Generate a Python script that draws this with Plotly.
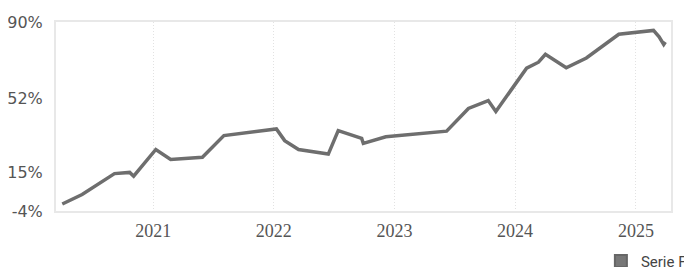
import plotly.graph_objects as go

dates = [
    "2020-04-01", "2020-05-31", "2020-09-06", "2020-10-22", "2020-11-03",
    "2021-01-09", "2021-02-23", "2021-05-30", "2021-08-03", "2022-01-09",
    "2022-02-03", "2022-03-17", "2022-06-15", "2022-07-15", "2022-09-24",
    "2022-09-29", "2022-12-06", "2023-06-08", "2023-08-13", "2023-10-12",
    "2023-11-04", "2024-02-05", "2024-03-12", "2024-04-02", "2024-06-04",
    "2024-08-04", "2024-11-10", "2025-02-23", "2025-03-12", "2025-03-26",
    "2025-03-31",
]
values = [
    -0.5, 4.2, 14.6, 15.2, 13.3,
    26.6, 21.6, 22.7, 33.5, 36.8,
    31.0, 26.6, 24.3, 36.0, 32.1,
    29.6, 32.9, 35.7, 47.0, 50.9,
    45.5, 67.0, 70.0, 73.9, 67.2,
    72.1, 83.9, 85.8, 82.6, 78.8,
    80.0,
]
y_ticks = [-4, 15, 52, 90]
y_tick_labels = ["-4%", "15%", "52%", "90%"]
x_ticks = ["2021-01-01", "2022-01-01", "2023-01-01", "2024-01-01", "2025-01-01"]
x_tick_labels = ["2021", "2022", "2023", "2024", "2025"]
series_name = "Serie F"
color = "#6e6e6e"

fig = go.Figure()
fig.add_trace(go.Scatter(
    x=dates, y=values, mode="lines", name=series_name, showlegend=False,
    line=dict(color=color, width=3.5),
))
fig.add_trace(go.Scatter(
    x=[None], y=[None], mode="markers", name=series_name, showlegend=True,
    marker=dict(symbol="square", size=17, color="#777777",
                line=dict(color="#666666", width=1)),
))

fig.update_layout(
    width=692, height=267,
    margin=dict(l=48, r=29, t=14, b=64, autoexpand=False),
    paper_bgcolor="white", plot_bgcolor="white",
    showlegend=True,
    legend=dict(x=0.886, xanchor="left", y=-0.178, yanchor="top",
                font=dict(family="Roboto", size=15, color="#444444"),
                bgcolor="rgba(0,0,0,0)", itemsizing="constant"),
    xaxis=dict(
        type="date",
        range=["2020-03-13", "2025-04-17"],
        tickvals=x_ticks, ticktext=x_tick_labels,
        tickfont=dict(family="Liberation Serif", size=18, color="#555555"),
        showgrid=True, gridcolor="#e2e2e2", griddash="1px,2px", gridwidth=1,
        showline=True, linecolor="#e8e8e8", linewidth=2, mirror=True,
        zeroline=False, ticks="", ticklabelstandoff=2, automargin=False,
    ),
    yaxis=dict(
        range=[-4, 90],
        tickvals=y_ticks, ticktext=y_tick_labels,
        tickfont=dict(family="DejaVu Sans", size=16, color="#555555"),
        showgrid=False,
        showline=True, linecolor="#e8e8e8", linewidth=2, mirror=True,
        zeroline=False, ticks="", ticklabelstandoff=8, automargin=False,
    ),
)

fig.write_html("out.html")
